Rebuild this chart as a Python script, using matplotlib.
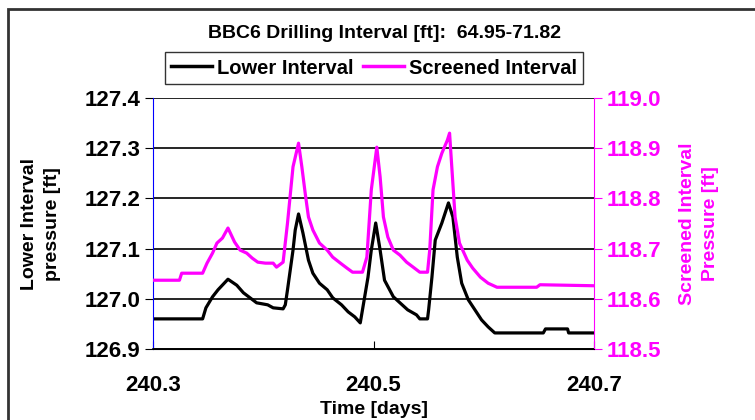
import matplotlib.pyplot as plt
from matplotlib.patches import Rectangle
from matplotlib.lines import Line2D

# Lower interval pressure [ft] (left axis)
lower_t = [240.300, 240.345, 240.348, 240.354, 240.359, 240.368, 240.376, 240.382,
           240.388, 240.394, 240.404, 240.409, 240.418, 240.420, 240.422, 240.427,
           240.429, 240.432, 240.436, 240.441, 240.445, 240.451, 240.458, 240.463,
           240.471, 240.477, 240.483, 240.488, 240.490, 240.495, 240.498, 240.502,
           240.506, 240.510, 240.518, 240.524, 240.531, 240.539, 240.542, 240.549,
           240.550, 240.553, 240.556, 240.562, 240.568, 240.572, 240.576, 240.580,
           240.586, 240.592, 240.598, 240.604, 240.610, 240.654, 240.656, 240.676,
           240.677, 240.700]
lower_p = [126.960, 126.960, 126.982, 127.004, 127.018, 127.039, 127.027, 127.012,
           127.002, 126.992, 126.988, 126.982, 126.980, 126.988, 127.018, 127.097,
           127.137, 127.169, 127.131, 127.077, 127.051, 127.031, 127.018, 127.002,
           126.988, 126.974, 126.964, 126.952, 126.978, 127.043, 127.097, 127.151,
           127.097, 127.037, 127.004, 126.992, 126.978, 126.968, 126.960, 126.960,
           126.978, 127.043, 127.117, 127.151, 127.191, 127.163, 127.083, 127.031,
           126.998, 126.978, 126.958, 126.944, 126.932, 126.932, 126.940, 126.940,
           126.932, 126.932]

# Screened interval pressure [ft] (right axis)
screen_t = [240.300, 240.324, 240.326, 240.345, 240.349, 240.354, 240.358, 240.363,
            240.368, 240.374, 240.379, 240.385, 240.390, 240.395, 240.402, 240.409,
            240.412, 240.418, 240.422, 240.427, 240.432, 240.435, 240.438, 240.441,
            240.445, 240.451, 240.458, 240.463, 240.470, 240.476, 240.481, 240.490,
            240.494, 240.498, 240.503, 240.506, 240.509, 240.513, 240.518, 240.524,
            240.530, 240.536, 240.542, 240.549, 240.551, 240.554, 240.558, 240.562,
            240.567, 240.569, 240.571, 240.574, 240.578, 240.585, 240.590, 240.597,
            240.604, 240.612, 240.648, 240.651, 240.700]
screen_p = [118.637, 118.637, 118.651, 118.651, 118.671, 118.691, 118.711, 118.721,
            118.741, 118.713, 118.697, 118.691, 118.681, 118.673, 118.671, 118.671,
            118.663, 118.673, 118.751, 118.863, 118.910, 118.863, 118.811, 118.763,
            118.737, 118.711, 118.697, 118.683, 118.671, 118.661, 118.653, 118.653,
            118.683, 118.817, 118.902, 118.843, 118.763, 118.723, 118.697, 118.687,
            118.673, 118.663, 118.653, 118.653, 118.697, 118.817, 118.863, 118.890,
            118.916, 118.930, 118.863, 118.763, 118.711, 118.677, 118.661, 118.643,
            118.631, 118.623, 118.623, 118.628, 118.626]

x_ticks = [240.3, 240.5, 240.7]
left_ticks = [126.9, 127.0, 127.1, 127.2, 127.3, 127.4]
right_ticks = [118.5, 118.6, 118.7, 118.8, 118.9, 119.0]

MAGENTA = '#ff00ff'
plt.rcParams['font.family'] = ['Liberation Sans', 'DejaVu Sans']
plt.rcParams['font.weight'] = 'bold'

fig = plt.figure(figsize=(7.55, 4.2), dpi=100)
# outer chart frame (only left and top edges fall inside the image)
fig.patches.append(Rectangle((8 / 755, -0.05), 1.0, 1 - 9 / 420 + 0.05,
                             transform=fig.transFigure, fill=False,
                             edgecolor='#333333', linewidth=2))

ax = fig.add_axes([153 / 755, 1 - 349 / 420, 441 / 755, 251 / 420])
ax2 = ax.twinx()

ax.plot(lower_t, lower_p, color='black', linewidth=2.3)
ax2.plot(screen_t, screen_p, color=MAGENTA, linewidth=2.3)

ax.set_xlim(240.3, 240.7)
ax.set_ylim(126.9, 127.4)
ax2.set_ylim(118.5, 119.0)
ax.set_xticks(x_ticks)
ax.set_xticklabels([f'{v:.1f}' for v in x_ticks])
ax.set_yticks(left_ticks)
ax.set_yticklabels([f'{v:.1f}' for v in left_ticks])
ax2.set_yticks(right_ticks)
ax2.set_yticklabels([f'{v:.1f}' for v in right_ticks])

ax.yaxis.grid(True, color='black', linewidth=1.2)
ax.set_axisbelow(True)

for a in (ax, ax2):
    a.spines['top'].set_visible(False)
ax.spines['left'].set_color('blue')
ax.spines['right'].set_visible(False)
ax2.spines['left'].set_visible(False)
ax2.spines['right'].set_color(MAGENTA)
ax.spines['bottom'].set_linewidth(1.2)

ax.tick_params(axis='x', direction='in', length=6, labelsize=16, pad=19)
ax.tick_params(axis='y', direction='out', length=6, labelsize=16, pad=3)
ax2.tick_params(axis='y', direction='out', length=6, labelsize=16, pad=3,
                color=MAGENTA, labelcolor=MAGENTA)

ax.set_xlabel('Time [days]', fontsize=14, fontweight='bold', labelpad=3)

fig.text(41 / 755, 1 - 224 / 420, 'Lower Interval\npressure [ft]', rotation=90,
         ha='center', va='center', multialignment='center', linespacing=1.45,
         fontsize=14, fontweight='bold')
fig.text(699 / 755, 1 - 224 / 420, 'Screened Interval\nPressure [ft]', rotation=90,
         ha='center', va='center', multialignment='center', linespacing=1.45,
         fontsize=14, fontweight='bold', color=MAGENTA)

fig.text(384 / 755, 1 - 33 / 420, 'BBC6 Drilling Interval [ft]:  64.95-71.82',
         ha='center', va='center', fontsize=14, fontweight='bold')

handles = [Line2D([], [], color='black', linewidth=2.5),
           Line2D([], [], color=MAGENTA, linewidth=2.5)]
leg = fig.legend(handles, ['Lower Interval', 'Screened Interval'], ncol=2,
                 loc='center', bbox_to_anchor=(374 / 755, 1 - 68 / 420),
                 fontsize=14.5, frameon=True, fancybox=False, handlelength=2.0,
                 handletextpad=0.25, columnspacing=0.5, borderpad=0.3)
leg.get_frame().set_edgecolor('black')
leg.get_frame().set_linewidth(1.0)

fig.savefig('out.png', dpi=100)
